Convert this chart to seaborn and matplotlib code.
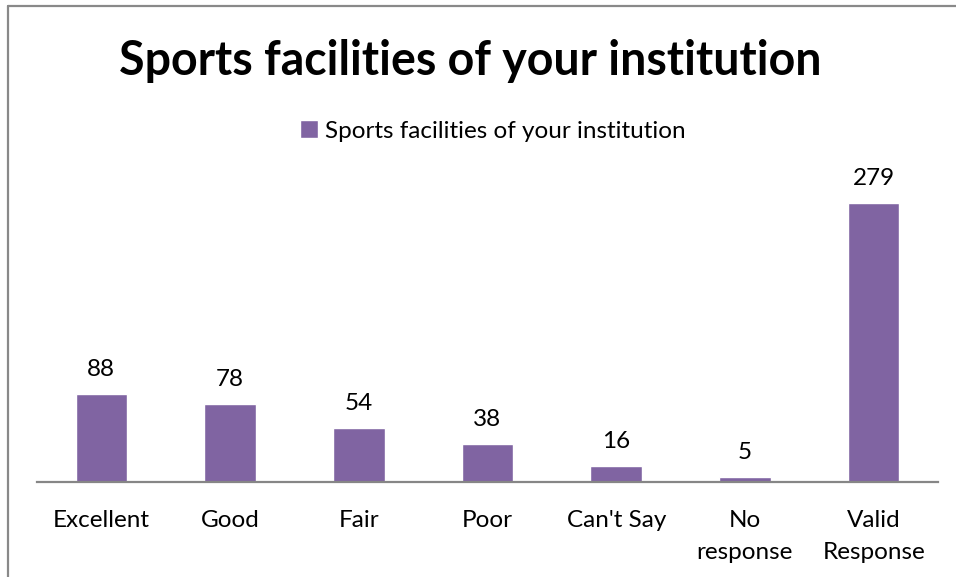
import matplotlib
matplotlib.use("Agg")
import matplotlib.pyplot as plt
from matplotlib.lines import Line2D
import pandas as pd
import seaborn as sns

# ── Data ──────────────────────────────────────────────────────────────────────
categories = ["Excellent", "Good", "Fair", "Poor", "Can't Say",
              "No\nresponse", "Valid\nResponse"]
counts = [88, 78, 54, 38, 16, 5, 279]
series_name = "Sports facilities of your institution"

BAR_COLOR = "#8064A2"
AXIS_GRAY = "#868686"
FONT = ["Lato", "DejaVu Sans"]

sns.set_theme(style="white")
plt.rcParams["font.family"] = FONT
plt.rcParams["text.color"] = "black"

df = pd.DataFrame({"category": categories, "count": counts})

fig = plt.figure(figsize=(9.56, 5.77), dpi=100)
W, H = 956, 577
ax = fig.add_axes([37 / W, (H - 482) / H, (938 - 37) / W, 300 / H])

sns.barplot(data=df, x="category", y="count", color=BAR_COLOR,
            width=0.4, saturation=1, label=series_name, ax=ax)

ax.set_xlim(-0.5, len(categories) - 0.5)
ax.set_ylim(0, 300)
ax.set_xlabel("")
ax.set_ylabel("")
ax.set_yticks([])
ax.tick_params(axis="x", length=0, pad=20, labelsize=17.5, labelcolor="black")
for lbl in ax.get_xticklabels():
    lbl.set_linespacing(1.65)
for s in ["top", "right", "left"]:
    ax.spines[s].set_visible(False)
ax.spines["bottom"].set_color(AXIS_GRAY)
ax.spines["bottom"].set_linewidth(1.6)

for container in ax.containers:
    ax.bar_label(container, padding=10, fontsize=17.5, color="black")

ax.legend(loc="center", bbox_to_anchor=((493) / W, (H - 131) / H), bbox_transform=fig.transFigure,
          frameon=False, fontsize=17.5, handlelength=0.75, handleheight=0.75,
          handletextpad=0.3, borderaxespad=0, labelcolor="black")

fig.text(470 / W, (H - 61) / H, "Sports facilities of your institution",
         ha="center", va="center", fontsize=33.5, fontweight="bold", color="black")

# chart frame (left + top edges visible in the source)
fig.add_artist(Line2D([7.5 / W, 7.5 / W], [0, (H - 5.5) / H], transform=fig.transFigure,
                      color="#898989", lw=1.6))
fig.add_artist(Line2D([7.5 / W, 1], [(H - 5.5) / H, (H - 5.5) / H], transform=fig.transFigure,
                      color="#898989", lw=1.6))

fig.savefig("out.png", dpi=100)
